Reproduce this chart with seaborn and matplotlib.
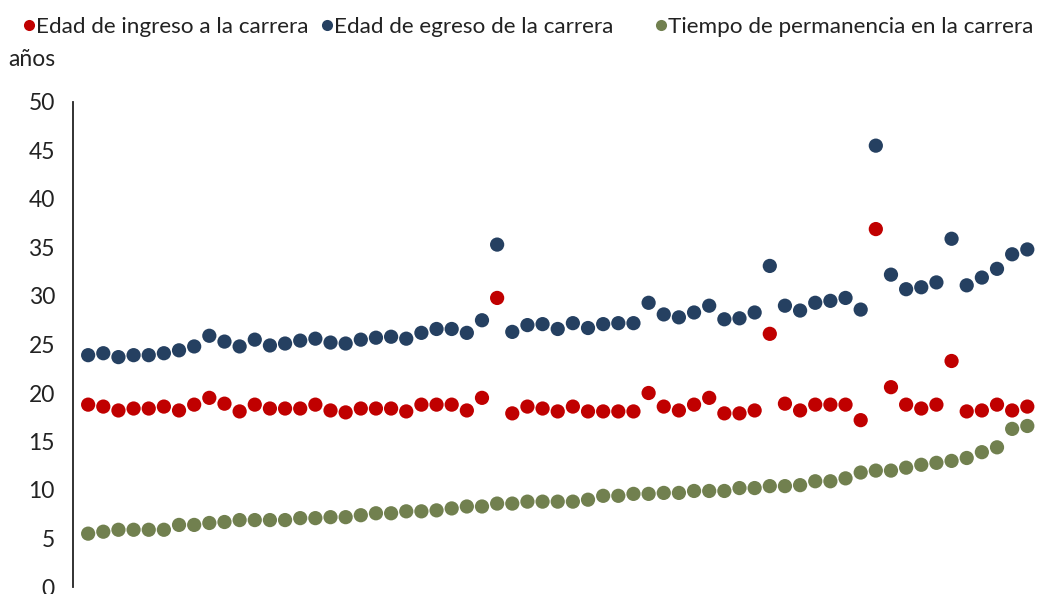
import numpy as np
import pandas as pd
import matplotlib
matplotlib.use("Agg")
import matplotlib.pyplot as plt
from matplotlib.lines import Line2D
import seaborn as sns

# datos (63 carreras, ordenadas por tiempo de permanencia)
ingreso = [18.8, 18.6, 18.2, 18.4, 18.4, 18.6, 18.2, 18.8, 19.5, 18.9, 18.1, 18.8, 18.4, 18.4, 18.4, 18.8,
           18.2, 18.0, 18.4, 18.4, 18.4, 18.1, 18.8, 18.8, 18.8, 18.2, 19.5, 29.8, 17.9, 18.6, 18.4,
           18.1, 18.6, 18.1, 18.1, 18.1, 18.1, 20.0, 18.6, 18.2, 18.8, 19.5, 17.9, 17.9, 18.2, 26.1,
           18.9, 18.2, 18.8, 18.8, 18.8, 17.2, 36.9, 20.6, 18.8, 18.4, 18.8, 23.3, 18.1, 18.2, 18.8, 18.2, 18.6]
egreso = [23.9, 24.1, 23.7, 23.9, 23.9, 24.1, 24.4, 24.8, 25.9, 25.3, 24.8, 25.5, 24.9, 25.1, 25.4, 25.6,
          25.2, 25.1, 25.5, 25.7, 25.8, 25.6, 26.2, 26.6, 26.6, 26.2, 27.5, 35.3, 26.3, 27.0, 27.1,
          26.6, 27.2, 26.7, 27.1, 27.2, 27.2, 29.3, 28.1, 27.8, 28.3, 29.0, 27.6, 27.7, 28.3, 33.1,
          29.0, 28.5, 29.3, 29.5, 29.8, 28.6, 45.5, 32.2, 30.7, 30.9, 31.4, 35.9, 31.1, 31.9, 32.8, 34.3, 34.8]
permanencia = [5.5, 5.7, 5.9, 5.9, 5.9, 5.9, 6.4, 6.4, 6.6, 6.7, 6.9, 6.9, 6.9, 6.9, 7.1, 7.1,
               7.2, 7.2, 7.4, 7.6, 7.6, 7.8, 7.8, 7.9, 8.1, 8.3, 8.3, 8.6, 8.6, 8.8, 8.8,
               8.8, 8.8, 9.0, 9.4, 9.4, 9.6, 9.6, 9.7, 9.7, 9.9, 9.9, 9.9, 10.2, 10.2, 10.4,
               10.4, 10.5, 10.9, 10.9, 11.2, 11.8, 12.0, 12.0, 12.3, 12.6, 12.8, 13.0, 13.3, 13.9, 14.4, 16.3, 16.6]

series = ["Edad de ingreso a la carrera", "Edad de egreso de la carrera", "Tiempo de permanencia en la carrera"]
colores = ["#C00000", "#254061", "#71804F"]
yticks = list(range(0, 55, 5))

n = len(ingreso)
df = pd.DataFrame({
    "idx": np.tile(np.arange(n), 3),
    "valor": ingreso + egreso + permanencia,
    "serie": np.repeat(series, n),
})

sns.set_style("white")
plt.rcParams["font.family"] = ["Lato", "DejaVu Sans"]

fig = plt.figure(figsize=(10.37, 5.94), dpi=100)
ax = fig.add_axes([73 / 1037, 7 / 594, 964 / 1037, 485 / 594])

sns.scatterplot(data=df, x="idx", y="valor", hue="serie", hue_order=series,
                palette=colores, s=105, linewidth=0, legend=False, ax=ax, clip_on=False)

ax.set_xlim(-1, 62.64)
ax.set_ylim(0, 50)
ax.set_yticks(yticks)
ax.set_xticks([])
ax.set_xlabel("")
ax.set_ylabel("")
ax.tick_params(axis="y", length=0, pad=13, labelsize=16.5, labelcolor="#222222")
for side in ["top", "right", "bottom"]:
    ax.spines[side].set_visible(False)
ax.spines["left"].set_color("#222222")
ax.spines["left"].set_linewidth(1.3)

fig.text(8 / 1037, 1 - 60 / 594, "años", fontsize=16.5, color="#222222", va="center", ha="left")

# leyenda: una entrada por serie, cada una en su posicion
for x0, serie, c in zip([23, 321, 655], series, colores):
    h = Line2D([], [], marker="o", linestyle="", markersize=8, color=c, markeredgewidth=0)
    fig.legend([h], [serie], loc="center left", bbox_to_anchor=(x0 / 1037, 1 - 27 / 594),
               frameon=False, fontsize=16.2, handlelength=0.5, handletextpad=0.1,
               borderpad=0, borderaxespad=0, labelcolor="#222222")

fig.savefig("out.png", dpi=100)
